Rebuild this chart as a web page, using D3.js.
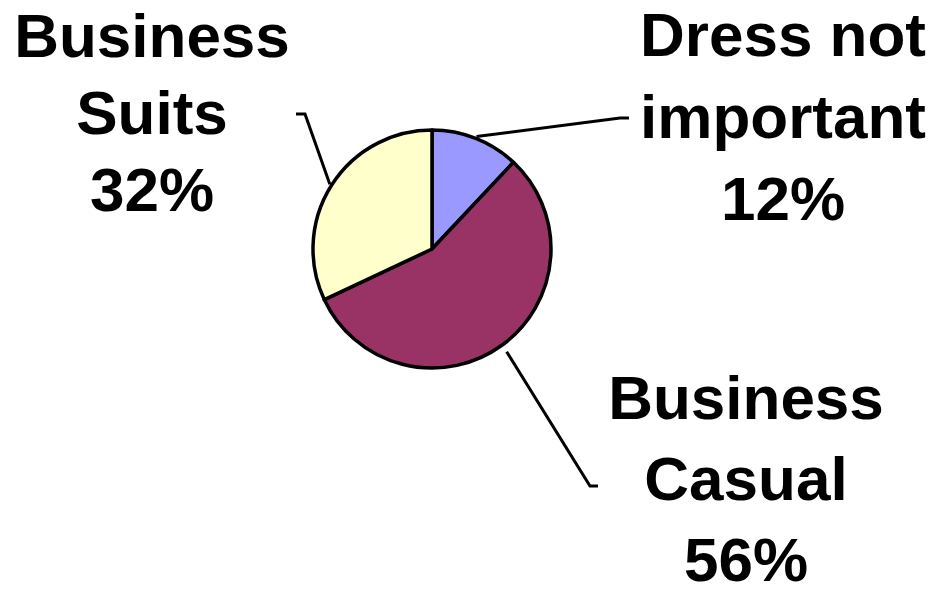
<!DOCTYPE html>
<html><head><meta charset="utf-8">
<script src="https://cdn.jsdelivr.net/npm/d3@7"></script>
<style>html,body{margin:0;padding:0;background:#fff;}svg{display:block;}</style>
</head><body>
<svg id="c" width="934" height="596"></svg>
<script>
const categories = ["Dress not important", "Business Casual", "Business Suits"];
const values = [12, 56, 32];
const labelLines = [["Dress not", "important", "12%"], ["Business", "Casual", "56%"], ["Business", "Suits", "32%"]];
const colors = ["#9999FF", "#993366", "#FFFFCC"];

const svg = d3.select("#c");
const cx = 432, cy = 249, R = 119;
const g = svg.append("g").attr("transform", `translate(${cx},${cy})`);
const pie = d3.pie().sort(null).value(d => d)(values);
const arc = d3.arc().innerRadius(0).outerRadius(R);

g.selectAll("path.slice").data(pie).enter().append("path")
  .attr("class", "slice")
  .attr("d", arc)
  .attr("fill", (d, i) => colors[i])
  .attr("stroke", "#000").attr("stroke-width", 3.5).attr("stroke-linejoin", "round");

const layout = [
  {x: 783, y: 56, step: 82, end: [620, 118], tick: 9, startR: 121},
  {x: 746, y: 419, step: 81, end: [590, 486], tick: 8, startR: 127},
  {x: 152, y: 57, step: 77, end: [305, 114], tick: -9, startR: 121}
];

pie.forEach((d, i) => {
  const L = layout[i];
  const a = (d.startAngle + d.endAngle) / 2;
  const sx = cx + L.startR * Math.sin(a), sy = cy - L.startR * Math.cos(a);
  svg.append("polyline")
    .attr("points", `${sx},${sy} ${L.end[0]},${L.end[1]} ${L.end[0] + L.tick},${L.end[1]}`)
    .attr("fill", "none").attr("stroke", "#000").attr("stroke-width", 3);
  const t = svg.append("text")
    .attr("font-family", "'Liberation Sans', Arial, sans-serif")
    .attr("font-weight", "bold").attr("font-size", 62)
    .attr("text-anchor", "middle").attr("fill", "#000");
  labelLines[i].forEach((ln, k) => {
    t.append("tspan").attr("x", L.x).attr("y", L.y + k * L.step).text(ln);
  });
});
</script>
</body></html>
